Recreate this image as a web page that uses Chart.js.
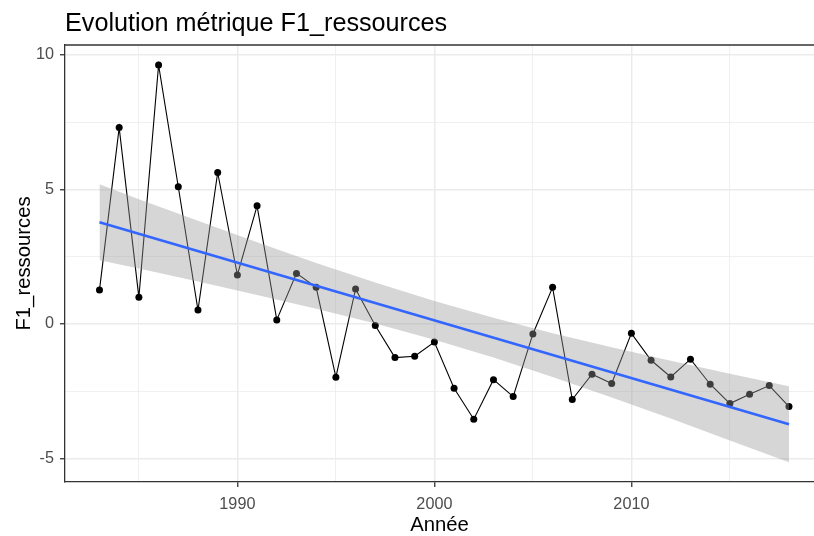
<!DOCTYPE html>
<html>
<head>
<meta charset="utf-8">
<title>Evolution métrique F1_ressources</title>
<script src="https://cdn.jsdelivr.net/npm/chart.js@4.4.0/dist/chart.umd.min.js"></script>
<style>
  body { margin: 0; background: #fff; }
  #wrap { position: relative; width: 814px; height: 536px; }
  #titre { position: absolute; left: 65px; top: 10px; margin: 0; color: #000; white-space: nowrap;
           font: 25.2px 'Liberation Sans', Arial, sans-serif; line-height: 25px; }
</style>
</head>
<body>
<div id="wrap">
  <canvas id="myChart" width="814" height="536"></canvas>
  <div id="titre">Evolution métrique F1_ressources</div>
</div>
<script>
// valeurs
const annees = [1983, 1984, 1985, 1986, 1987, 1988, 1989, 1990, 1991, 1992, 1993, 1994,
                1995, 1996, 1997, 1998, 1999, 2000, 2001, 2002, 2003, 2004, 2005,
                2006, 2007, 2008, 2009, 2010, 2011, 2012, 2013, 2014, 2015, 2016, 2017, 2018];
const f1 = [1.26, 7.30, 0.99, 9.63, 5.10, 0.52, 5.63, 1.82, 4.39, 0.15, 1.88, 1.36,
            -1.98, 1.30, -0.06, -1.25, -1.20, -0.67, -2.39, -3.54, -2.07, -2.70, -0.37,
            1.36, -2.81, -1.87, -2.21, -0.35, -1.35, -1.97, -1.31, -2.24, -2.96, -2.61, -2.29, -3.07];

// droite de regression (geom_smooth lm)
const tendAnnees = [1983, 2018];
const tend = [3.78, -3.73];

// intervalle de confiance
const icAnnees = [1983, 1985, 1988, 1991, 1994, 1997, 2000, 2003, 2006, 2009, 2012, 2015, 2018];
const icHaut = [5.19, 4.64, 3.84, 3.04, 2.27, 1.54, 0.85, 0.23, -0.35, -0.87, -1.37, -1.85, -2.32];
const icBas = [2.37, 2.06, 1.58, 1.08, 0.57, 0.02, -0.59, -1.25, -1.97, -2.73, -3.51, -4.33, -5.14];

// graduations
const xTicks = [1985, 1990, 1995, 2000, 2005, 2010, 2015];
const xLabels = [1990, 2000, 2010];
const yTicks = [-5, -2.5, 0, 2.5, 5, 7.5, 10];
const yLabels = [-5, 0, 5, 10];

const police = "'Liberation Sans', Arial, sans-serif";
const pts = (xs, ys) => xs.map((x, i) => ({ x: x, y: ys[i] }));

const cadreHaut = {
    id: 'cadreHaut',
    afterDraw(chart) {
        const { ctx, chartArea } = chart;
        ctx.save();
        ctx.strokeStyle = '#333333';
        ctx.lineWidth = 1.3;
        ctx.beginPath();
        ctx.moveTo(chartArea.left, chartArea.top);
        ctx.lineTo(chartArea.right, chartArea.top);
        ctx.stroke();
        ctx.restore();
    }
};

new Chart(document.getElementById('myChart'), {
    type: 'line',
    data: {
        datasets: [{
            label: 'tendance',
            data: pts(tendAnnees, tend),
            borderColor: '#3366FF',
            borderWidth: 2.6,
            pointRadius: 0,
            fill: false,
            order: 0
        }, {
            label: 'ic_haut',
            data: pts(icAnnees, icHaut),
            borderColor: 'rgba(0,0,0,0)',
            borderWidth: 0,
            pointRadius: 0,
            backgroundColor: 'rgba(153,153,153,0.4)',
            fill: '+1',
            order: 1
        }, {
            label: 'ic_bas',
            data: pts(icAnnees, icBas),
            borderColor: 'rgba(0,0,0,0)',
            borderWidth: 0,
            pointRadius: 0,
            fill: false,
            order: 1
        }, {
            label: 'F1_ressources',
            data: pts(annees, f1),
            borderColor: '#000000',
            borderWidth: 1.1,
            pointRadius: 3.5,
            pointBackgroundColor: '#000000',
            pointBorderWidth: 0,
            fill: false,
            order: 2
        }]
    },
    options: {
        responsive: false,
        animation: false,
        events: [],
        // le panneau est coupé au bord droit de l'image
        layout: { autoPadding: false, padding: { top: 45, right: 0, bottom: 0, left: 0 } },
        plugins: {
            legend: { display: false },
            tooltip: { enabled: false }
        },
        scales: {
            x: {
                type: 'linear',
                min: 1981.25,
                max: 2019.27,
                afterBuildTicks: s => { s.ticks = xTicks.map(v => ({ value: v })); },
                afterFit: s => { s.height = 54; s.paddingLeft = 0; s.paddingRight = 0; },
                ticks: {
                    callback: v => xLabels.includes(v) ? String(v) : '',
                    color: '#4d4d4d',
                    font: { size: 16.2, family: police },
                    padding: 8,
                    maxRotation: 0,
                    autoSkip: false
                },
                grid: {
                    color: '#ebebeb',
                    lineWidth: c => c.tick && xLabels.includes(c.tick.value) ? 1.5 : 0.75,
                    tickLength: 5,
                    tickColor: c => c.tick && xLabels.includes(c.tick.value) ? '#333333' : 'rgba(0,0,0,0)',
                    tickWidth: 1.3
                },
                border: { color: '#333333', width: 1.3 },
                title: {
                    display: true,
                    text: 'Année',
                    color: '#000000',
                    font: { size: 20.3, family: police, lineHeight: 1.05 },
                    padding: { top: 0, bottom: 0 }
                }
            },
            y: {
                type: 'linear',
                min: -5.875,
                max: 10.37,
                afterBuildTicks: s => { s.ticks = yTicks.map(v => ({ value: v })); },
                afterFit: s => { s.width = 65; },
                ticks: {
                    callback: v => yLabels.includes(v) ? String(v) : '',
                    color: '#4d4d4d',
                    font: { size: 16.2, family: police },
                    padding: 6,
                    autoSkip: false
                },
                grid: {
                    color: '#ebebeb',
                    lineWidth: c => c.tick && yLabels.includes(c.tick.value) ? 1.5 : 0.75,
                    tickLength: 5,
                    tickColor: c => c.tick && yLabels.includes(c.tick.value) ? '#333333' : 'rgba(0,0,0,0)',
                    tickWidth: 1.3
                },
                border: { color: '#333333', width: 1.3 },
                title: {
                    display: true,
                    text: 'F1_ressources',
                    color: '#000000',
                    font: { size: 20.3, family: police },
                    padding: { top: 12, bottom: 0 }
                }
            }
        }
    },
    plugins: [cadreHaut]
});
</script>
</body>
</html>
